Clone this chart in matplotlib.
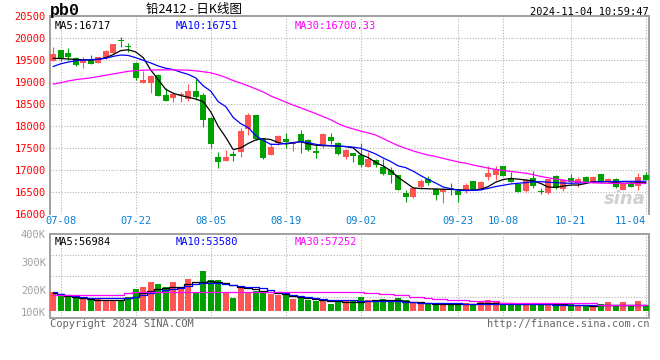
import numpy as np
import matplotlib.pyplot as plt

plt.rcParams['font.family'] = ['DejaVu Sans Mono', 'Noto Sans CJK SC']

# 日K数据 07-05 ~ 11-04
opens = np.array([
    19493, 19727, 19667, 19553, 19432, 19523, 19447, 19553, 19674, 19955,
    19818, 19440, 18985, 18985, 19174, 18720, 18651, 18704, 18613, 18802,
    18711, 18181, 17310, 17219, 17371, 17423, 17931, 18257, 17711, 17348,
    17613, 17711, 17597, 17825, 17688, 17438, 17574, 17764, 17612, 17309,
    17400, 17347, 17082, 17233, 17067, 17006, 16893, 16491, 16400, 16627,
    16801, 16567, 16514, 16589, 16529, 16552, 16756, 16567, 16855, 16892,
    17097, 16817, 16680, 16520, 16832, 16536, 16476, 16870, 16567, 16817,
    16718, 16839, 16703, 16908, 16764, 16794, 16552, 16718, 16642, 16892])
highs = np.array([
    19803, 19740, 19780, 19575, 19576, 19614, 19575, 19730, 19880, 20030,
    19894, 19455, 19250, 19160, 19180, 18871, 18787, 18787, 18961, 19075,
    18749, 18219, 17423, 17461, 17446, 17954, 18310, 18260, 17720, 17613,
    17803, 17855, 17673, 17915, 17703, 17574, 17855, 17855, 17650, 17476,
    17400, 17612, 17423, 17249, 17249, 17082, 16900, 16551, 16627, 16794,
    16870, 16589, 16589, 16718, 16567, 16703, 16764, 16748, 17097, 17097,
    17105, 16968, 16690, 16800, 16991, 16589, 16800, 16892, 16794, 16908,
    16839, 16870, 16870, 16910, 16832, 16817, 16741, 16756, 16930, 16968])
lows = np.array([
    19480, 19477, 19500, 19379, 19326, 19420, 19440, 19540, 19645, 19796,
    19682, 19061, 18980, 18758, 18680, 18580, 18560, 18560, 18583, 18598,
    17992, 17499, 17045, 17210, 17219, 17310, 17802, 17690, 17264, 17340,
    17575, 17499, 17446, 17385, 17446, 17287, 17499, 17590, 17347, 17249,
    17196, 17082, 17075, 17082, 16893, 16703, 16550, 16286, 16362, 16589,
    16665, 16324, 16248, 16438, 16286, 16476, 16550, 16552, 16779, 16779,
    16860, 16735, 16510, 16500, 16589, 16461, 16470, 16567, 16536, 16718,
    16627, 16718, 16700, 16718, 16741, 16589, 16550, 16612, 16552, 16775])
closes = np.array([
    19644, 19553, 19583, 19402, 19515, 19424, 19568, 19720, 19871, 19932,
    19796, 19099, 19061, 19152, 18682, 18584, 18727, 18727, 18802, 18658,
    18143, 17590, 17196, 17310, 17333, 17901, 18257, 17711, 17287, 17522,
    17780, 17651, 17650, 17635, 17461, 17400, 17825, 17665, 17362, 17461,
    17332, 17120, 17249, 17120, 16915, 16893, 16552, 16400, 16589, 16764,
    16718, 16438, 16567, 16552, 16438, 16665, 16552, 16733, 16945, 17021,
    16870, 16741, 16514, 16790, 16642, 16498, 16794, 16589, 16779, 16741,
    16794, 16741, 16855, 16756, 16794, 16612, 16718, 16627, 16839, 16779])

ma5 = [
    19545, 19540, 19530, 19520, 19510, 19505, 19520, 19560, 19630, 19720,
    19740, 19690, 19560, 19280, 19060, 18840, 18750, 18700, 18660, 18620,
    18560, 18330, 18000, 17750, 17470, 17510, 17610, 17690, 17720, 17700,
    17630, 17600, 17620, 17650, 17600, 17570, 17560, 17555, 17550, 17540,
    17510, 17360, 17290, 17180, 17100, 16990, 16840, 16720, 16600, 16585,
    16580, 16575, 16570, 16565, 16560, 16550, 16545, 16570, 16630, 16730,
    16790, 16815, 16800, 16780, 16760, 16700, 16620, 16613, 16640, 16665,
    16666, 16700, 16740, 16741, 16741, 16720, 16705, 16710, 16716, 16717]
ma10 = [
    19360, 19420, 19460, 19490, 19505, 19515, 19525, 19545, 19590, 19620,
    19610, 19560, 19500, 19440, 19370, 19320, 19290, 19230, 19180, 19100,
    18920, 18800, 18560, 18450, 18200, 18060, 17970, 17790, 17680, 17590,
    17590, 17610, 17630, 17650, 17630, 17590, 17570, 17560, 17550, 17540,
    17525, 17500, 17440, 17370, 17280, 17200, 17100, 17060, 16980, 16880,
    16790, 16710, 16620, 16580, 16545, 16540, 16545, 16555, 16590, 16630,
    16660, 16690, 16705, 16720, 16740, 16740, 16730, 16720, 16710, 16705,
    16710, 16720, 16730, 16740, 16745, 16745, 16748, 16750, 16750, 16751]
ma30 = [
    18960, 18990, 19030, 19060, 19080, 19100, 19130, 19160, 19190, 19220,
    19250, 19265, 19275, 19280, 19282, 19282, 19282, 19280, 19275, 19260,
    19240, 19215, 19170, 19110, 19040, 18980, 18920, 18850, 18780, 18690,
    18620, 18550, 18480, 18420, 18355, 18290, 18220, 18150, 18060, 17990,
    17940, 17890, 17850, 17800, 17720, 17640, 17560, 17500, 17440, 17390,
    17345, 17315, 17270, 17230, 17190, 17160, 17120, 17085, 17050, 17020,
    16995, 16975, 16955, 16935, 16900, 16860, 16830, 16800, 16780, 16750,
    16735, 16725, 16715, 16708, 16704, 16702, 16701, 16700, 16700, 16700]

# 成交量 (K)
volumes = np.array([
    192, 182, 182, 179, 168, 164, 168, 164, 164, 164,
    174, 204, 211, 229, 221, 212, 229, 207, 239, 189,
    268, 236, 236, 192, 171, 214, 189, 196, 189, 186,
    181, 181, 168, 179, 164, 161, 161, 150, 158, 164,
    164, 175, 164, 164, 168, 164, 171, 164, 158, 158,
    155, 150, 152, 152, 152, 152, 150, 158, 164, 162,
    150, 150, 150, 150, 150, 146, 150, 150, 150, 150,
    146, 146, 146, 150, 158, 146, 158, 146, 162, 146])
vol_ma5 = [
    188, 184, 180, 176, 172, 168, 164, 164, 164, 166,
    170, 176, 188, 198, 204, 208, 210, 212, 220, 228,
    230, 232, 230, 224, 218, 212, 208, 202, 196, 192,
    188, 185, 180, 176, 172, 168, 165, 162, 160, 158,
    158, 158, 160, 164, 164, 164, 164, 162, 158, 156,
    152, 150, 150, 150, 150, 150, 151, 152, 152, 152,
    152, 152, 151, 151, 151, 150, 150, 150, 150, 147,
    146, 146, 143, 148, 148, 148, 148, 148, 148, 148]
vol_ma10 = [
    194, 186, 182, 178, 175, 173, 172, 171, 170, 171,
    172, 176, 182, 188, 194, 200, 204, 208, 214, 222,
    225, 226, 224, 220, 218, 215, 212, 209, 206, 200,
    193, 188, 182, 179, 175, 171, 168, 166, 164, 164,
    163, 162, 161, 160, 160, 160, 159, 158, 156, 155,
    154, 154, 154, 153, 152, 151, 150, 149, 149, 149,
    149, 149, 149, 149, 149, 149, 149, 148, 148, 148,
    148, 148, 148, 148, 148, 148, 148, 148, 148, 148]
vol_ma30 = [
    182, 182, 182, 182, 181, 181, 181, 181, 181, 182,
    190, 192, 192, 192, 192, 192, 192, 192, 192, 192,
    192, 192, 192, 192, 194, 194, 194, 194, 194, 194,
    194, 194, 194, 194, 194, 194, 194, 194, 194, 194,
    194, 194, 189, 189, 185, 185, 181, 181, 176, 176,
    171, 168, 168, 164, 164, 164, 159, 159, 159, 159,
    155, 155, 155, 155, 155, 152, 152, 152, 152, 152,
    152, 152, 152, 148, 148, 148, 148, 148, 148, 148]

date_pos = [1, 11, 21, 31, 41, 54, 60, 69, 79]
date_labels = ['07-08', '07-22', '08-05', '08-19', '09-02', '09-23', '10-08', '10-21', '11-04']
price_ticks = [16000, 16500, 17000, 17500, 18000, 18500, 19000, 19500, 20000, 20500]
vol_ticks = [100, 200, 300, 400]

RED = '#ff5555'
GREEN = '#00a000'
GRID = '#b4b4b4'
FRAME = '#a0a0a0'
VOL_BASE = 125

x = np.arange(len(closes))
colors = np.where(closes >= opens, RED, GREEN)

fig = plt.figure(figsize=(6.6, 3.6), dpi=100)
ax = fig.add_axes([50 / 660, 1 - 214.3 / 360, 599 / 660, 198 / 360])
ax2 = fig.add_axes([50 / 660, 1 - 318 / 360, 599 / 660, 84 / 360])

# K线
ax.vlines(x, lows, highs, colors=colors, linewidth=0.8, zorder=2)
ax.bar(x, np.maximum(np.abs(closes - opens), 12), 0.8, bottom=np.minimum(opens, closes),
       color=colors, linewidth=0, zorder=3)
ax.plot(x, ma5, color='black', lw=0.9, zorder=4)
ax.plot(x, ma10, color='#0000ff', lw=0.9, zorder=4)
ax.plot(x, ma30, color='#ff00ff', lw=0.9, zorder=4)

ax.set_xlim(-0.43, 79.44)
ax.set_ylim(16000, 20500)
ax.set_yticks(price_ticks)
ax.set_yticklabels([str(v) for v in price_ticks])
ax.set_xticks(date_pos)
ax.set_xticklabels(date_labels)
ax.tick_params(axis='y', length=0, pad=3, labelsize=7.5, labelcolor='#ff0000')
ax.tick_params(axis='x', length=0, pad=1.5, labelsize=7.5, labelcolor='#0a7fd0')
ax.get_xticklabels()[-1].set_horizontalalignment('right')
ax.grid(True, linestyle=(0, (1, 1.5)), color=GRID, lw=0.8)
ax.set_axisbelow(True)
for s in ['top', 'left', 'right']:
    ax.spines[s].set_color(FRAME)
    ax.spines[s].set_linewidth(1.4)
ax.spines['bottom'].set_visible(False)

ax.text(0.008, 0.975, 'MA5:16717', transform=ax.transAxes, fontsize=7.5, color='black', va='top')
ax.text(0.209, 0.975, 'MA10:16751', transform=ax.transAxes, fontsize=7.5, color='#0000ff', va='top')
ax.text(0.409, 0.975, 'MA30:16700.33', transform=ax.transAxes, fontsize=7.5, color='#ff00ff', va='top')
ax.text(0.995, 0.03, 'sina', transform=ax.transAxes, fontsize=13, color='#d0d0d0',
        fontstyle='italic', fontweight='bold', family='DejaVu Sans', ha='right', va='bottom')

# 成交量
ax2.bar(x, volumes - VOL_BASE, 0.76, bottom=VOL_BASE, color=colors, linewidth=0, zorder=3)
ax2.plot(x, vol_ma5, color='black', lw=0.9, drawstyle='steps-mid', zorder=4)
ax2.plot(x, vol_ma10, color='#0000ff', lw=0.9, drawstyle='steps-mid', zorder=4)
ax2.plot(x, vol_ma30, color='#ff00ff', lw=0.9, drawstyle='steps-mid', zorder=4)
ax2.set_xlim(-0.43, 79.44)
ax2.set_ylim(100, 400)
ax2.set_yticks(vol_ticks)
ax2.set_yticklabels([f'{v}K' for v in vol_ticks])
ax2.get_yticklabels()[0].set_verticalalignment('bottom')
ax2.set_xticks(date_pos)
ax2.set_xticklabels([])
ax2.tick_params(length=0, pad=3, labelsize=7.5, labelcolor='#a0a0a0')
ax2.grid(True, axis='x', linestyle=(0, (1, 1.5)), color=GRID, lw=0.8)
for f in [0.25, 0.5, 0.75]:
    ax2.axhline(100 + 300 * f, linestyle=(0, (1, 1.5)), color=GRID, lw=0.8, zorder=1)
ax2.set_axisbelow(True)
for s in ax2.spines.values():
    s.set_color(FRAME)
    s.set_linewidth(1.4)

ax2.text(0.008, 0.97, 'MA5:56984', transform=ax2.transAxes, fontsize=7.5, color='black', va='top')
ax2.text(0.209, 0.97, 'MA10:53580', transform=ax2.transAxes, fontsize=7.5, color='#0000ff', va='top')
ax2.text(0.409, 0.97, 'MA30:57252', transform=ax2.transAxes, fontsize=7.5, color='#ff00ff', va='top')

# 标题和页脚
fig.text(50 / 660, 1 - 10 / 360, 'pb0', fontsize=12, fontweight='bold', family='Liberation Mono', va='center')
fig.text(194 / 660, 1 - 10 / 360, '铅2412 - 日K线图', fontsize=9, family=['Noto Sans CJK SC'],
         ha='center', va='center')
fig.text(649 / 660, 1 - 12 / 360, '2024-11-04 10:59:47', fontsize=7.5, ha='right', va='center')
fig.text(50 / 660, 1 - 324 / 360, 'Copyright 2024 SINA.COM', fontsize=7.5, color='#666666', va='center')
fig.text(649 / 660, 1 - 324 / 360, 'http://finance.sina.com.cn', fontsize=7.5, color='#666666',
         ha='right', va='center')

fig.savefig('out.png', dpi=100)
